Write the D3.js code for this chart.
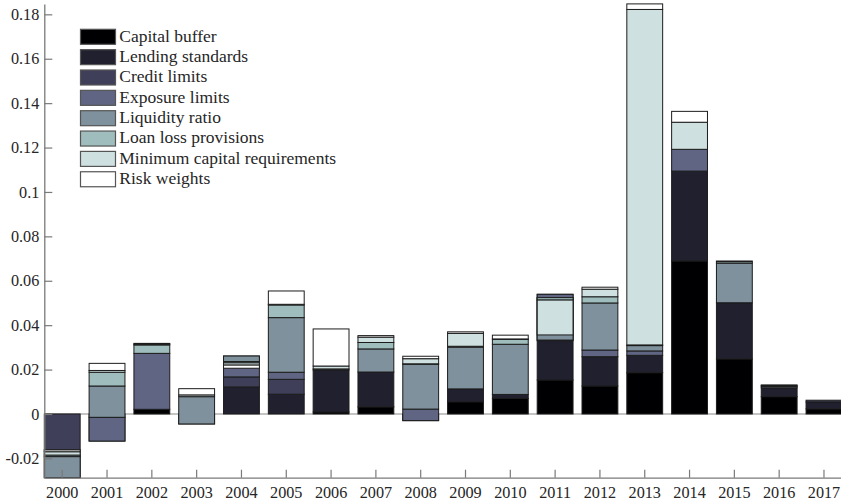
<!DOCTYPE html>
<html>
<head>
<meta charset="utf-8">
<script src="https://cdn.jsdelivr.net/npm/d3@7/dist/d3.min.js"></script>
<style>
  html, body { margin: 0; padding: 0; background: #fff; }
  svg { display: block; }
  text { font-family: "Liberation Serif", "Times New Roman", serif; }
</style>
</head>
<body>
<svg id="chart" width="841" height="502"></svg>
<script>
// Macroprudential policy contributions by instrument, 2000-2017 (cumulatively stacked bars)
const years = [2000, 2001, 2002, 2003, 2004, 2005, 2006, 2007, 2008,
               2009, 2010, 2011, 2012, 2013, 2014, 2015, 2016, 2017];

const seriesNames = ["Capital buffer", "Lending standards", "Credit limits", "Exposure limits",
                     "Liquidity ratio", "Loan loss provisions", "Minimum capital requirements", "Risk weights"];

const seriesColors = ["#000003", "#20202f", "#3f3f5a", "#5f6582",
                      "#7f919c", "#9fbdbc", "#cee0df", "#ffffff"];

const capitalBuffer      = [0, 0, 0.0021, 0, 0, 0, 0.0009, 0.0032, 0, 0.0055, 0.0070, 0.0153, 0.0126, 0.0186, 0.0689, 0.0248, 0.0078, 0.0023];
const lendingStandards   = [0, 0, 0, 0, 0.0122, 0.0089, 0.0189, 0.0157, 0, 0.0058, 0.0018, 0.0177, 0.0132, 0.0078, 0.0405, 0.0253, 0.0040, 0.0031];
const creditLimits       = [-0.0162, -0.0122, 0, -0.0045, 0.0045, 0.0067, 0, 0, -0.0030, 0, 0, 0.0209, 0, 0, 0, 0, 0, 0.0008];
const exposureLimits     = [-0.0125, 0.0107, 0.0252, 0, 0.0094, 0.0032, 0, 0, 0.0052, 0, 0, -0.0206, 0.0030, 0.0020, 0.0098, 0, 0, 0];
const liquidityRatio     = [0.0095, 0.0141, 0, 0.0123, -0.0025, 0.0246, 0, 0.0104, 0.0202, 0.0188, 0.0226, 0.0191, 0.0212, 0.0024, 0, 0.0178, 0.0006, 0];
const loanLossProvisions = [0.0007, 0.0062, 0.0038, 0, -0.0006, 0.0057, 0.0005, 0.0029, 0.0002, 0.0004, 0.0022, -0.0011, 0.0028, 0.0003, 0, 0.0007, 0.0004, 0];
const minCapitalReq      = [0.0015, 0.0008, 0.0004, 0.0008, -0.0010, 0.0003, 0.0013, 0.0024, 0.0023, 0.0058, 0.0002, -0.0157, 0.0034, 0.1511, 0.0122, 0.0003, 0.0003, 0];
const riskWeights        = [0.0008, 0.0032, 0.0003, 0.0028, -0.0014, 0.0060, 0.0167, 0.0007, 0.0011, 0.0007, 0.0017, 0, 0.0009, 0.0025, 0.0049, 0, 0, 0];

const yTickValues = [-0.02, 0, 0.02, 0.04, 0.06, 0.08, 0.1, 0.12, 0.14, 0.16, 0.18];

const seriesValues = [capitalBuffer, lendingStandards, creditLimits, exposureLimits,
                      liquidityRatio, loanLossProvisions, minCapitalReq, riskWeights];

const serif = '"Liberation Serif", "Times New Roman", serif';
const svg = d3.select("#chart");
const plot = { left: 44.3, right: 841.9, top: 3.9, bottom: 477.7 };
const axisGrey = "#7a7a7a";
const textColor = "#262626";

// Running-total stacking: every segment starts where the previous one ended,
// later instruments are painted over earlier ones.
const segments = seriesValues.map(() => []);
years.forEach((yr, j) => {
  let run = 0;
  seriesValues.forEach((vals, i) => {
    const y0 = run;
    run += vals[j];
    segments[i].push({ year: yr, y0: y0, y1: run, v: vals[j] });
  });
});

const ends = segments.flat().flatMap(d => [d.y0, d.y1]);
const y = d3.scaleLinear()
  .domain([d3.min(ends), d3.max(ends)])
  .range([plot.bottom, plot.top]);

const x = d3.scaleBand()
  .domain(years)
  .range([plot.left, plot.right])
  .paddingInner(0.2)
  .paddingOuter(0);

// zero baseline
svg.append("line")
  .attr("x1", plot.left).attr("x2", plot.right)
  .attr("y1", y(0)).attr("y2", y(0))
  .attr("stroke", "#8a8a8a").attr("stroke-width", 1.2);

// bars
segments.forEach((segs, i) => {
  svg.append("g")
    .selectAll("rect")
    .data(segs.filter(d => d.v !== 0))
    .join("rect")
    .attr("x", d => x(d.year))
    .attr("width", x.bandwidth())
    .attr("y", d => y(Math.max(d.y0, d.y1)))
    .attr("height", d => Math.abs(y(d.y0) - y(d.y1)))
    .attr("fill", seriesColors[i])
    .attr("stroke", "#1c1c1c")
    .attr("stroke-width", 1);
});

// axes
const fmt = v => (v === 0 ? "0" : String(+v.toFixed(2)));

const yAxis = svg.append("g")
  .attr("transform", `translate(${plot.left},0)`)
  .call(d3.axisLeft(y).tickValues(yTickValues).tickFormat(fmt)
        .tickSizeInner(-8).tickSizeOuter(0).tickPadding(5));

const xAxis = svg.append("g")
  .attr("transform", `translate(0,${plot.bottom})`)
  .call(d3.axisBottom(x).tickSizeInner(-8).tickSizeOuter(0).tickPadding(8.5));

[yAxis, xAxis].forEach(g => {
  g.attr("font-family", serif).attr("font-size", 16.2);
  g.select(".domain").attr("stroke", axisGrey).attr("stroke-width", 1.3);
  g.selectAll(".tick line").attr("stroke", axisGrey).attr("stroke-width", 1.2);
  g.selectAll(".tick text")
    .attr("fill", textColor)
    .style("font-family", serif)
    .style("font-size", "16.2px");
});

// legend
const legend = svg.append("g");
const rowGap = 20.35;
seriesNames.forEach((name, i) => {
  const top = 29.3 + i * rowGap;
  legend.append("rect")
    .attr("x", 80.5).attr("y", top)
    .attr("width", 35).attr("height", 15)
    .attr("fill", seriesColors[i])
    .attr("stroke", "#555").attr("stroke-width", 1.2);
  legend.append("text")
    .attr("x", 119.3).attr("y", top + 12.3)
    .attr("fill", textColor)
    .style("font-family", serif)
    .style("font-size", "17.5px")
    .text(name);
});
</script>
</body>
</html>
